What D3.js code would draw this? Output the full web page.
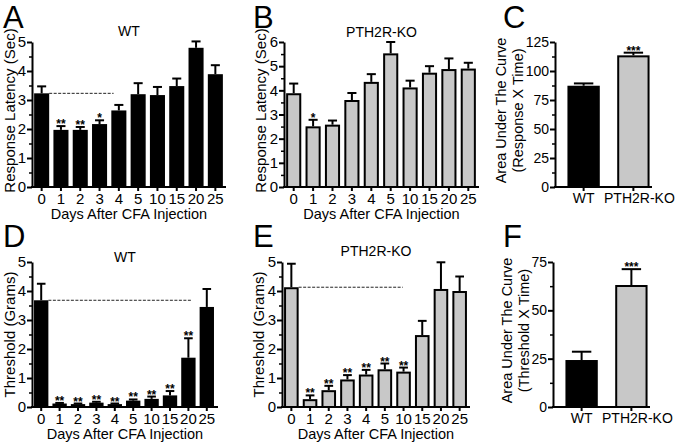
<!DOCTYPE html>
<html><head><meta charset="utf-8">
<script src="https://cdn.jsdelivr.net/npm/d3@7/dist/d3.min.js"></script>
<style>
html,body{margin:0;padding:0;background:#fff;}
svg{display:block;font-family:"Liberation Sans",Arial,Helvetica,sans-serif;}
</style></head>
<body>
<svg id="chart" width="680" height="448"></svg>
<script>
// ---------- DATA ----------
const days = ["0","1","2","3","4","5","10","15","20","25"];

const latencyWT    = [3.23, 1.97, 1.97, 2.17, 2.64, 3.20, 3.17, 3.48, 4.80, 3.89];
const latencyWTErr = [0.24, 0.13, 0.10, 0.13, 0.19, 0.38, 0.28, 0.26, 0.22, 0.31];
const latencyWTSig = ["", "**", "**", "*", "", "", "", "", "", ""];

const latencyKO    = [3.88, 2.51, 2.58, 3.60, 4.35, 5.53, 4.12, 4.73, 4.88, 4.90];
const latencyKOErr = [0.40, 0.27, 0.17, 0.29, 0.32, 0.47, 0.28, 0.27, 0.44, 0.24];
const latencyKOSig = ["", "*", "", "", "", "", "", "", "", ""];

const thresholdWT    = [3.68, 0.12, 0.10, 0.15, 0.10, 0.22, 0.28, 0.40, 1.70, 3.45];
const thresholdWTErr = [0.57, 0.02, 0.02, 0.03, 0.02, 0.04, 0.08, 0.15, 0.67, 0.62];
const thresholdWTSig = ["", "**", "**", "**", "**", "**", "**", "**", "**", ""];

const thresholdKO    = [4.13, 0.27, 0.58, 0.95, 1.12, 1.30, 1.22, 2.48, 4.07, 4.00];
const thresholdKOErr = [0.81, 0.13, 0.15, 0.15, 0.16, 0.20, 0.14, 0.49, 0.92, 0.50];
const thresholdKOSig = ["", "**", "**", "**", "**", "**", "**", "", "", ""];

const groups = ["WT", "PTH2R-KO"];
const aucLatency    = [87.3, 113.5];
const aucLatencyErr = [2.0, 2.3];
const aucLatencySig = ["", "***"];
const aucThreshold    = [24.3, 63.1];
const aucThresholdErr = [4.3, 8.2];
const aucThresholdSig = ["", "***"];

const ticksLatencyWT = [0, 1, 2, 3, 4, 5];
const ticksLatencyKO = [0, 1, 2, 3, 4, 5, 6];
const ticksThreshold = [0, 1, 2, 3, 4, 5];
const ticksAucLatency = [0, 25, 50, 75, 100, 125];
const ticksAucThreshold = [0, 25, 50, 75];

// ---------- DRAW ----------
const svg = d3.select("#chart");
const BLACK = "#000", GRAY = "#c8c8c8";
const FONT = "Liberation Sans, Arial, sans-serif";

function panel(o) {
  const g = svg.append("g");
  const x = d3.scaleBand().domain(o.cats).range([o.x0, o.x1])
    .paddingInner(o.pi).paddingOuter(o.po);
  const yMax = o.ticks[o.ticks.length - 1];
  const y = d3.scaleLinear().domain([0, yMax]).range([o.y0, o.y1]);
  const bw = x.bandwidth();
  const fills = Array.isArray(o.fill) ? o.fill : o.cats.map(() => o.fill);

  // minor ticks
  const step = o.ticks[1] - o.ticks[0];
  const minor = d3.range(step / 2, yMax, step);
  g.append("g").attr("transform", `translate(${o.x0},0)`)
    .call(d3.axisLeft(y).tickValues(minor).tickSize(3).tickSizeOuter(0).tickFormat(""))
    .call(a => a.select(".domain").remove())
    .call(a => a.selectAll("line").attr("stroke-width", 1.5));

  // y axis
  const ya = g.append("g").attr("transform", `translate(${o.x0},0)`)
    .call(d3.axisLeft(y).tickValues(o.ticks).tickSize(5).tickSizeOuter(0).tickPadding(1)
      .tickFormat(d3.format("d")));
  ya.select(".domain").attr("stroke-width", 2);
  ya.selectAll("line").attr("stroke-width", 2);
  ya.selectAll("text").attr("font-size", o.yFont || 15).attr("font-family", FONT).attr("fill", "#000");

  // dashed reference
  if (o.ref) {
    const xs = x(o.cats[0]) + bw;
    const xe = x(o.ref.to) + o.ref.frac * bw;
    g.append("line").attr("x1", xs).attr("x2", xe)
      .attr("y1", y(o.vals[0])).attr("y2", y(o.vals[0]))
      .attr("stroke", "#222").attr("stroke-width", 1).attr("stroke-dasharray", "3,1.5");
  }

  // bars
  const data = o.cats.map((c, i) => ({c, v: o.vals[i], e: o.errs[i], s: o.sig[i], f: fills[i]}));
  g.selectAll(".bar").data(data).join("rect")
    .attr("x", d => x(d.c) + (d.f === BLACK ? 0 : 1))
    .attr("width", d => bw - (d.f === BLACK ? 0 : 2))
    .attr("y", d => y(d.v) + (d.f === BLACK ? 0 : 1))
    .attr("height", d => Math.max(0, o.y0 - y(d.v) - (d.f === BLACK ? 0 : 1)))
    .attr("fill", d => d.f)
    .attr("stroke", d => d.f === BLACK ? "none" : "#000").attr("stroke-width", 2);

  // error bars (upper)
  const cw = bw * o.cap;
  g.selectAll(".eb").data(data).join("line")
    .attr("x1", d => x(d.c) + bw / 2).attr("x2", d => x(d.c) + bw / 2)
    .attr("y1", d => y(d.v)).attr("y2", d => y(d.v + d.e))
    .attr("stroke", "#000").attr("stroke-width", 2);
  g.selectAll(".ec").data(data).join("line")
    .attr("x1", d => x(d.c) + bw / 2 - cw / 2).attr("x2", d => x(d.c) + bw / 2 + cw / 2)
    .attr("y1", d => y(d.v + d.e)).attr("y2", d => y(d.v + d.e))
    .attr("stroke", "#000").attr("stroke-width", 2);

  // significance
  g.selectAll(".sig").data(data.filter(d => d.s)).join("text")
    .attr("x", d => x(d.c) + bw / 2).attr("y", d => y(d.v + d.e) + 2)
    .attr("text-anchor", "middle").attr("font-size", 12).attr("font-weight", "bold")
    .text(d => d.s);

  // x axis
  const xa = g.append("g").attr("transform", `translate(0,${o.y0})`)
    .call(d3.axisBottom(x).tickSize(4).tickSizeOuter(0).tickPadding(2));
  xa.select(".domain").attr("stroke-width", 2).attr("d", `M${o.x0 - 1},0H${o.xEnd}`);
  xa.selectAll("line").attr("stroke-width", 2);
  xa.selectAll("text").attr("font-size", o.xFont || 15).attr("font-family", FONT).attr("fill", "#000")
    .attr("dx", (d, i) => (o.xShift ? o.xShift[i] : 0));

  // titles
  if (o.title) g.append("text").attr("x", (o.x0 + o.xEnd) / 2).attr("y", o.titleY)
    .attr("text-anchor", "middle").attr("font-size", 14).text(o.title);
  if (o.xTitle) g.append("text").attr("x", (o.x0 + o.xEnd) / 2).attr("y", o.y0 + 32)
    .attr("text-anchor", "middle").attr("font-size", 14.5).text(o.xTitle);
  o.yTitle.forEach((t, i) => {
    g.append("text").attr("transform", `translate(${o.yTitleX[i]},${(o.y0 + o.y1) / 2 + (o.yTitleDy || 0)}) rotate(-90)`)
      .attr("text-anchor", "middle").attr("font-size", o.yTitleFont || 15).text(t);
  });
  g.append("text").attr("x", o.letterX).attr("y", o.letterY).attr("font-size", 31).text(o.letter);
}

const top0 = 187, top1 = 42, bot0 = 407, bot1 = 262;

panel({letter: "A", letterX: 3, letterY: 28, title: "WT", titleY: 36,
  cats: days, vals: latencyWT, errs: latencyWTErr, sig: latencyWTSig, fill: BLACK,
  ticks: ticksLatencyWT, x0: 32, x1: 225, xEnd: 226, y0: top0, y1: top1, pi: 0.22, po: 0.11, cap: 0.6,
  ref: {to: "4", frac: 0.15}, xTitle: "Days After CFA Injection",
  yTitle: ["Response Latency (Sec)"], yTitleX: [15], yTitleDy: -4});

panel({letter: "B", letterX: 253, letterY: 28, title: "PTH2R-KO", titleY: 37,
  cats: days, vals: latencyKO, errs: latencyKOErr, sig: latencyKOSig, fill: GRAY,
  ticks: ticksLatencyKO, x0: 284, x1: 478, xEnd: 479, y0: top0, y1: top1, pi: 0.22, po: 0.11, cap: 0.6,
  xTitle: "Days After CFA Injection",
  yTitle: ["Response Latency (Sec)"], yTitleX: [266], yTitleDy: -4});

panel({letter: "C", letterX: 503, letterY: 28,
  cats: groups, vals: aucLatency, errs: aucLatencyErr, sig: aucLatencySig, fill: [BLACK, GRAY],
  ticks: ticksAucLatency, x0: 555, x1: 662, xEnd: 652, y0: top0, y1: top1, pi: 0.35, po: 0.25, cap: 0.6,
  yFont: 14, xFont: 14, xShift: [0, 6],
  yTitle: ["Area Under The Curve", "(Response X Time)"], yTitleX: [506, 523], yTitleFont: 14.5, yTitleDy: -4});

panel({letter: "D", letterX: 3, letterY: 247, title: "WT", titleY: 262,
  cats: days, vals: thresholdWT, errs: thresholdWTErr, sig: thresholdWTSig, fill: BLACK,
  ticks: ticksThreshold, x0: 32, x1: 216, xEnd: 218, y0: bot0, y1: bot1, pi: 0.22, po: 0.11, cap: 0.6,
  ref: {to: "20", frac: 0.7}, xTitle: "Days After CFA Injection",
  yTitle: ["Threshold (Grams)"], yTitleX: [15]});

panel({letter: "E", letterX: 253, letterY: 247, title: "PTH2R-KO", titleY: 256,
  cats: days, vals: thresholdKO, errs: thresholdKOErr, sig: thresholdKOSig, fill: GRAY,
  ticks: ticksThreshold, x0: 282, x1: 469, xEnd: 470, y0: bot0, y1: bot1, pi: 0.22, po: 0.11, cap: 0.6,
  ref: {to: "10", frac: 0.45}, xTitle: "Days After CFA Injection",
  yTitle: ["Threshold (Grams)"], yTitleX: [264]});

panel({letter: "F", letterX: 503, letterY: 247,
  cats: groups, vals: aucThreshold, errs: aucThresholdErr, sig: aucThresholdSig, fill: [BLACK, GRAY],
  ticks: ticksAucThreshold, x0: 553, x1: 660, xEnd: 650, y0: bot0, y1: bot1, pi: 0.35, po: 0.25, cap: 0.6,
  yFont: 14, xFont: 14, xShift: [0, 6],
  yTitle: ["Area Under The Curve", "(Threshold X Time)"], yTitleX: [512, 529], yTitleFont: 14.5, yTitleDy: -4});
</script>
</body></html>
